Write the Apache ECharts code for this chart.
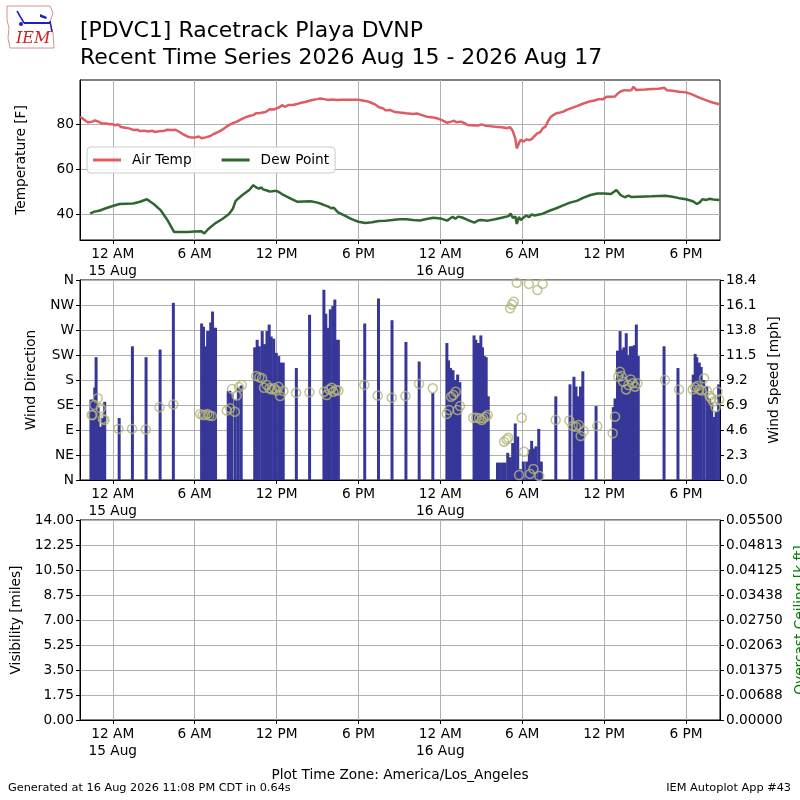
<!DOCTYPE html>
<html><head><meta charset="utf-8">
<script src="https://cdn.jsdelivr.net/npm/echarts@6/dist/echarts.min.js"></script>
<style>html,body{margin:0;padding:0;background:#fff}#c{width:800px;height:800px}</style>
</head><body><div id="c"></div>
<script>
// ---- data (hours relative to 15 Aug 2026 00:00 local) ----
const tempHours = [-2.4,-2.2,-2.0,-1.8,-1.5,-1.3,-1.1,-0.8,-0.5,-0.2,0,0.2,0.4,0.6,0.9,1.2,1.5,1.8,2.0,2.3,2.6,2.9,3.1,3.4,3.7,4.0,4.3,4.6,4.9,5.2,5.5,5.8,6.0,6.3,6.5,6.8,7.1,7.4,7.7,8.0,8.3,8.6,8.9,9.1,9.4,9.7,10.0,10.3,10.5,10.8,11.0,11.2,11.5,11.8,12.0,12.2,12.4,12.6,12.9,13.2,13.5,13.8,14.1,14.4,14.7,15.0,15.2,15.5,15.8,16.1,16.4,16.8,17.2,17.6,18.0,18.3,18.6,18.9,19.2,19.5,19.8,20.0,20.3,20.6,21.0,21.5,22.0,22.3,22.6,23.0,23.5,23.8,24.0,24.3,24.5,24.8,25.0,25.2,25.5,25.8,26.0,26.5,26.8,27.0,27.3,27.6,28.0,28.5,28.9,29.1,29.3,29.5,29.6,29.75,29.9,30.1,30.3,30.5,30.7,30.9,31.1,31.3,31.5,31.7,31.9,32.1,32.3,32.5,32.8,33.0,33.3,33.6,34.0,34.3,34.6,35.0,35.3,35.6,35.9,36.2,36.5,36.8,37.0,37.2,37.5,37.8,38.0,38.15,38.35,38.6,39.0,39.5,40.0,40.4,40.6,41.0,41.5,42.0,42.4,42.8,43.2,43.6,44.0,44.45];
const airTemp = [83.4,82.6,81.6,80.9,81.2,81.8,81.3,80.4,80.4,80.0,80.0,79.6,80.0,78.8,78.5,78.2,77.5,77.6,77.0,77.2,76.8,77.1,76.6,76.9,77.0,77.6,77.5,77.6,76.6,75.4,74.5,74.1,74.1,74.6,73.8,74.2,74.7,75.7,76.5,77.5,78.8,80.0,80.8,81.2,82.2,83.1,83.7,84.1,84.9,85.0,85.3,85.5,86.7,86.6,87.1,87.6,88.5,87.8,88.6,88.6,89.0,89.6,89.9,90.5,90.9,91.2,91.5,91.2,90.8,91.0,90.8,90.9,90.9,90.9,90.9,90.6,90.3,89.7,88.9,87.6,87.1,86.2,86.4,85.6,85.3,84.9,84.6,84.8,84.2,83.4,83.0,82.6,82.2,81.3,80.7,81.2,81.6,80.9,81.2,80.4,79.7,79.5,79.5,80.0,79.4,79.2,78.9,78.7,78.3,78.8,77.2,73.5,69.3,71.5,73.2,72.3,73.3,73.0,73.4,74.8,76.0,76.4,78.2,79.0,81.5,83.4,84.2,84.9,85.3,85.6,86.5,87.2,88.1,88.8,89.5,90.3,90.6,91.2,91.1,92.3,92.3,92.4,93.7,94.6,95.2,95.0,95.2,96.7,95.3,95.4,95.5,95.7,95.8,96.3,95.1,94.9,94.5,94.2,93.4,92.3,91.3,90.4,89.6,88.9];

const dewHours = [-1.66,-1.5,-1.35,-1.25,-1.0,-0.5,0,0.5,1.0,1.5,2.0,2.5,3.0,3.5,4.0,4.5,5.0,5.5,6.0,6.5,6.7,7.0,7.5,8.0,8.5,8.8,9.0,9.5,10.0,10.3,10.5,10.7,10.9,11.0,11.3,11.5,11.8,12.0,12.2,12.5,13.0,13.5,14.0,14.5,15.0,15.3,15.5,15.8,16.0,16.2,16.5,17.0,17.5,18.0,18.5,19.0,19.5,20.0,20.5,21.0,21.5,22.0,22.5,23.0,23.5,24.0,24.5,24.9,25.1,25.3,25.6,26.0,26.5,26.8,27.0,27.5,28.0,28.5,29.0,29.15,29.3,29.5,29.6,29.75,29.9,30.1,30.3,30.5,30.7,30.9,31.0,31.5,32.0,32.5,33.0,33.5,34.0,34.5,35.0,35.5,36.0,36.5,36.9,37.2,37.5,37.8,38.0,38.5,39.0,39.5,40.0,40.5,41.0,41.5,42.0,42.5,42.8,43.0,43.2,43.5,43.7,44.0,44.45];
const dewPoint = [40.4,40.8,41.2,40.6,41.6,42.7,43.7,44.6,44.7,44.8,45.6,46.7,44.6,41.9,37.5,32.1,32.1,32.2,32.4,32.5,31.5,33.5,36.0,37.8,40.0,42.5,46.0,48.6,50.8,53.0,52.0,51.4,52.0,51.1,50.6,50.1,50.4,50.4,49.8,48.6,47.1,45.6,45.7,45.8,45.2,44.6,44.1,43.4,42.7,42.9,40.9,39.4,37.9,36.7,36.2,36.5,37.0,37.2,37.5,37.8,37.8,37.5,37.3,37.9,38.5,38.2,37.2,38.9,38.0,39.0,38.6,37.5,36.3,37.4,37.5,37.2,37.8,38.5,39.2,40.3,38.5,39.0,35.7,38.8,37.5,38.6,39.5,38.8,40.0,39.5,40.3,40.3,41.6,42.7,44.0,45.2,46.0,47.4,48.6,49.3,49.3,49.0,50.8,48.6,47.6,48.3,47.7,47.8,47.9,48.0,48.2,48.3,47.8,47.2,46.7,45.8,44.6,45.3,46.7,46.4,46.9,46.6,46.4];

const windHours = [-1.60,-1.45,-1.32,-1.22,-1.07,-0.90,-0.73,-0.59,0.47,1.44,2.44,3.47,4.44,6.51,6.65,6.81,6.95,7.04,7.18,7.31,7.45,7.53,8.46,8.58,8.74,8.98,9.20,9.41,10.40,10.58,10.74,10.95,11.12,11.30,11.46,11.61,11.79,11.98,12.16,12.34,12.49,13.45,14.42,15.47,15.61,15.76,15.94,16.12,16.27,16.42,16.53,18.46,19.47,20.46,21.48,22.45,23.45,24.48,24.60,24.75,24.93,25.11,25.27,25.43,26.47,26.60,26.74,26.86,26.97,27.09,27.22,27.36,27.51,28.19,28.37,28.56,28.74,28.94,29.13,29.30,29.49,29.67,29.86,30.08,30.33,30.52,30.69,30.86,31.01,31.21,31.40,32.46,33.50,33.79,33.94,34.11,34.27,34.44,35.41,36.67,36.80,36.98,37.17,37.30,37.45,37.62,37.78,37.92,38.07,38.21,38.36,38.50,40.39,41.41,42.53,42.67,42.79,42.97,43.11,43.30,43.52,43.72,43.88,44.04,44.21,44.39];
const windSpeed = [7.4,7.4,8.5,11.3,6.7,4.9,5.7,7.2,5.7,12.3,11.3,12.0,16.3,14.4,14.1,12.3,13.7,13.7,14.5,15.5,14.0,14.0,8.2,8.2,7.9,7.4,8.5,8.7,12.2,12.9,12.3,13.7,12.5,13.7,14.3,13.2,13.0,11.7,11.4,10.8,10.8,10.3,15.2,17.5,15.3,14.0,15.7,16.0,16.6,12.9,12.9,14.4,16.7,14.7,12.7,10.9,8.0,12.6,11.0,10.3,10.1,9.2,9.7,9.0,13.3,12.9,12.6,12.6,13.3,12.2,11.4,11.3,7.7,1.6,1.6,1.6,1.6,2.5,2.1,3.4,5.2,4.0,1.0,1.7,1.7,2.8,3.6,2.9,3.1,4.7,1.7,7.7,8.8,9.5,8.6,7.7,8.6,10.0,6.8,6.7,7.5,11.9,13.7,12.0,12.2,13.5,11.5,12.3,12.3,12.4,14.3,11.4,12.3,10.3,9.7,11.6,11.3,10.8,10.4,9.2,8.6,7.5,7.1,5.8,6.3,8.8];

const dirHours = [-1.54,-1.49,-1.35,-1.10,-0.88,-0.73,-0.61,0.41,1.41,2.42,3.42,4.44,6.40,6.59,6.76,6.93,7.08,7.27,8.35,8.60,8.94,8.74,9.08,9.25,9.45,10.50,10.74,10.94,11.08,11.28,11.48,11.65,11.82,12.01,12.14,12.26,12.50,13.43,14.41,15.48,15.68,15.87,16.04,16.16,16.36,16.53,18.43,19.41,20.44,21.44,22.44,23.44,24.47,24.64,24.79,24.96,25.13,25.27,25.44,26.42,26.62,26.84,27.03,27.15,27.33,27.47,28.67,28.86,28.98,29.96,30.13,29.77,30.57,30.82,31.25,29.11,29.25,29.38,29.60,30.48,31.11,31.50,32.45,33.45,33.70,33.94,34.14,34.28,34.50,35.50,36.63,36.80,37.04,37.16,37.28,37.40,37.61,37.78,37.95,38.10,38.27,38.44,40.46,41.49,42.49,42.66,42.83,42.98,43.15,43.32,43.52,43.72,43.84,44.00,44.17,44.31,44.43];
const windDir = [117,117,135,147,129,110,108,92,92,91,131,136,119,117,117,119,116,115,125,129,123,164,152,167,171,187,185,183,166,171,165,163,165,161,168,151,160,157,158,159,153,163,166,159,162,161,171,152,148,151,173,165,119,126,150,153,159,126,133,112,112,111,108,111,114,117,69,73,76,112,51,9,11,20,7,309,316,321,355,353,342,353,108,107,97,96,99,79,88,97,84,114,186,195,187,177,163,171,181,174,168,174,180,163,163,167,169,163,161,183,161,151,147,141,131,159,145];

// ---- ticks / labels ----
const xTickHours = [0,6,12,18,24,30,36,42];
const hourLabels = {0:'12 AM',6:'6 AM',12:'12 PM',18:'6 PM'};
const dayLabels = ['15 Aug','16 Aug'];
const tempTicks = [40,60,80];
const dirLabels = ['N','NE','E','SE','S','SW','W','NW','N'];
const speedLabels = ['0.0','2.3','4.6','6.9','9.2','11.5','13.8','16.1','18.4'];
const visLabels = ['0.00','1.75','3.50','5.25','7.00','8.75','10.50','12.25','14.00'];
const ceilLabels = ['0.00000','0.00688','0.01375','0.02063','0.02750','0.03438','0.04125','0.04813','0.05500'];

const FF = 'DejaVu Sans';
const FS = 13.7;
const xMin = -2.4, xMax = 44.49;

function xLabel(v){
  const h = Math.round(v);
  const hd = ((h % 24) + 24) % 24;
  let s = hourLabels[hd];
  if (s === undefined) return '';
  if (hd === 0) s += '\n' + dayLabels[Math.round(h/24)];
  return s;
}
function mkX(i){
  return {type:'value', gridIndex:i, min:xMin, max:xMax,
    axisLine:{onZero:false, lineStyle:{color:'#000',width:1}},
    axisTick:{length:4, customValues:xTickHours, lineStyle:{color:'#000'}},
    axisLabel:{customValues:xTickHours, formatter:xLabel, color:'#000', fontSize:FS, fontFamily:FF, margin:6, lineHeight:17, hideOverlap:false},
    splitLine:{show:true, lineStyle:{color:'#b0b0b0', width:1}}};
}
const yCommon = {axisLine:{show:true,onZero:false,lineStyle:{color:'#000'}}, axisTick:{show:true,length:4,lineStyle:{color:'#000'}},
  nameLocation:'middle', nameTextStyle:{color:'#000',fontSize:FS,fontFamily:FF}};
const lab = {color:'#000', fontSize:FS, fontFamily:FF, margin:6};

const chart = echarts.init(document.getElementById('c'), null, {renderer:'canvas'});
chart.setOption({
  animation:false,
  backgroundColor:'#fff',
  title:{text:'[PDVC1] Racetrack Playa DVNP\nRecent Time Series 2026 Aug 15 - 2026 Aug 17', left:75, top:13,
    textStyle:{fontSize:22, fontWeight:'normal', color:'#000', fontFamily:FF, lineHeight:27}},
  legend:{data:['Air Temp','Dew Point'], left:87, top:147, icon:'rect', itemWidth:28, itemHeight:3, itemGap:30,
    padding:[6,6], borderColor:'#cccccc', borderWidth:1, borderRadius:4, backgroundColor:'rgba(255,255,255,0.85)',
    textStyle:{fontSize:FS, color:'#000', fontFamily:FF, padding:[0,0,0,6]}},
  grid:[
    {left:80, top:80, width:640, height:160, show:true, borderColor:'#000', borderWidth:1, backgroundColor:'transparent'},
    {left:80, top:280, width:640, height:200, show:true, borderColor:'#000', borderWidth:1, backgroundColor:'transparent'},
    {left:80, top:520, width:640, height:200, show:true, borderColor:'#000', borderWidth:1, backgroundColor:'transparent'}
  ],
  xAxis:[mkX(0), mkX(1), mkX(2)],
  yAxis:[
    Object.assign({}, yCommon, {type:'value', gridIndex:0, min:28.6, max:99.7,
      name:'Temperature [F]', nameGap:52,
      axisTick:{show:true,length:4,customValues:tempTicks,lineStyle:{color:'#000'}},
      axisLabel:Object.assign({}, lab, {customValues:tempTicks}),
      splitLine:{show:true,lineStyle:{color:'#b0b0b0',width:1}}}),
    Object.assign({}, yCommon, {type:'value', gridIndex:1, min:0, max:360, interval:45,
      name:'Wind Direction', nameGap:42,
      axisLabel:Object.assign({}, lab, {formatter:v => dirLabels[Math.round(v/45)]}),
      splitLine:{show:true,lineStyle:{color:'#b0b0b0',width:1}}}),
    Object.assign({}, yCommon, {type:'value', gridIndex:1, position:'right', min:0, max:18.4, interval:2.3,
      name:'Wind Speed [mph]', nameGap:47,
      axisLabel:Object.assign({}, lab, {formatter:v => speedLabels[Math.round(v/2.3)]}),
      splitLine:{show:false}}),
    Object.assign({}, yCommon, {type:'value', gridIndex:2, min:0, max:14, interval:1.75,
      name:'Visibility [miles]', nameGap:57,
      axisLabel:Object.assign({}, lab, {formatter:v => visLabels[Math.round(v/1.75)]}),
      splitLine:{show:true,lineStyle:{color:'#b0b0b0',width:1}}}),
    Object.assign({}, yCommon, {type:'value', gridIndex:2, position:'right', min:0, max:0.055, interval:0.006875,
      axisLabel:Object.assign({}, lab, {formatter:v => ceilLabels[Math.round(v/0.006875)]}),
      splitLine:{show:false}})
  ],
  series:[
    {name:'Air Temp', type:'line', xAxisIndex:0, yAxisIndex:0, symbol:'none', showSymbol:false,
      color:'#de5c63', lineStyle:{width:2.5, color:'#de5c63'}, z:3,
      data:tempHours.map((h,i)=>[h, airTemp[i]])},
    {name:'Dew Point', type:'line', xAxisIndex:0, yAxisIndex:0, symbol:'none', showSymbol:false,
      color:'#2f6630', lineStyle:{width:2.5, color:'#2f6630'}, z:3,
      data:dewHours.map((h,i)=>[h, dewPoint[i]])},
    {name:'Wind Speed', type:'bar', xAxisIndex:1, yAxisIndex:2, barWidth:3, barGap:'-100%',
      itemStyle:{color:'#37379a'}, z:2,
      data:windHours.map((h,i)=>[h, windSpeed[i]])},
    {name:'Wind Direction', type:'scatter', xAxisIndex:1, yAxisIndex:1, symbol:'circle', symbolSize:9,
      itemStyle:{color:'rgba(0,0,0,0)', borderColor:'#b5b779', borderWidth:1.5}, z:4,
      data:dirHours.map((h,i)=>[h, windDir[i]])},
    {name:'empty', type:'line', xAxisIndex:2, yAxisIndex:3, data:[]}
  ],
  graphic:[
    {type:'polyline', shape:{points:[[7,6],[50,6],[53,13],[50,22],[53,33],[54,48],[10,48],[8,38],[9,28],[7,20],[7,6]]},
      style:{stroke:'#d89090', fill:'none', lineWidth:1}},
    {type:'line', shape:{x1:24,y1:23,x2:50,y2:23}, style:{stroke:'#2020c0', lineWidth:2}},
    {type:'line', shape:{x1:17,y1:11,x2:24,y2:23}, style:{stroke:'#2020c0', lineWidth:1.5}},
    {type:'polygon', shape:{points:[[40,14],[47,17],[46,19],[40,17]]}, style:{fill:'#2020c0'}},
    {type:'line', shape:{x1:50,y1:21,x2:52,y2:32}, style:{stroke:'#2020c0', lineWidth:1.5}},
    {type:'circle', shape:{cx:21,cy:24,r:2}, style:{fill:'#2020c0'}},
    {type:'text', left:16, top:31, style:{text:'IEM', font:'italic 16px "DejaVu Serif", serif', fill:'#d02020'}},
    {type:'text', x:800, y:620, rotation:Math.PI/2, style:{text:'Overcast Ceiling [k ft]', font:'13.7px "DejaVu Sans"', fill:'#008000', align:'center', verticalAlign:'middle'}},
    {type:'text', left:'center', top:768, style:{text:'Plot Time Zone: America/Los_Angeles', font:'13.7px "DejaVu Sans"', fill:'#000'}},
    {type:'text', left:8, top:783, style:{text:'Generated at 16 Aug 2026 11:08 PM CDT in 0.64s', font:'11.3px "DejaVu Sans"', fill:'#000'}},
    {type:'text', right:9, top:783, style:{text:'IEM Autoplot App #43', font:'11.3px "DejaVu Sans"', fill:'#000'}}
  ]
});
</script></body></html>
